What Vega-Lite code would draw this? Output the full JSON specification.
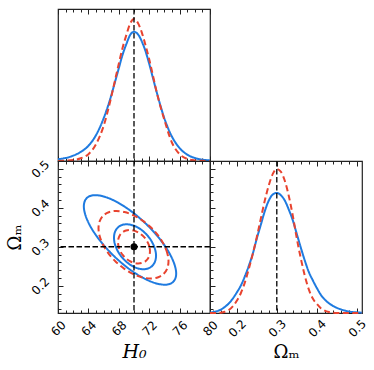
{
  "$schema": "https://vega.github.io/schema/vega-lite/v6.json",
  "padding": {"left": 5, "top": 7, "right": 5, "bottom": 5},
  "config": {
    "view": {"stroke": "#222222", "strokeWidth": 1.2},
    "axis": {"grid": false, "domain": false, "labelFont": "DejaVu Sans", "labelFontSize": 12, "labelColor": "black", "tickColor": "#222222", "tickWidth": 1, "titleFont": "DejaVu Serif", "titleFontSize": 18, "titleFontWeight": "normal", "titleColor": "black", "labelOverlap": false, "labelFlush": false, "labelBound": false}
  },
  "datasets": {
    "h0curves": [
      {"model": "A", "H0": 60, "p": 0.012}, {"model": "A", "H0": 61, "p": 0.02}, {"model": "A", "H0": 62, "p": 0.035}, {"model": "A", "H0": 63, "p": 0.06}, {"model": "A", "H0": 64, "p": 0.1}, {"model": "A", "H0": 65, "p": 0.17}, {"model": "A", "H0": 66, "p": 0.28}, {"model": "A", "H0": 67, "p": 0.43}, {"model": "A", "H0": 67.5, "p": 0.52}, {"model": "A", "H0": 68, "p": 0.61}, {"model": "A", "H0": 68.5, "p": 0.70}, {"model": "A", "H0": 69, "p": 0.77}, {"model": "A", "H0": 69.5, "p": 0.83}, {"model": "A", "H0": 70, "p": 0.85}, {"model": "A", "H0": 70.5, "p": 0.835}, {"model": "A", "H0": 71, "p": 0.79}, {"model": "A", "H0": 71.5, "p": 0.725}, {"model": "A", "H0": 72, "p": 0.64}, {"model": "A", "H0": 72.5, "p": 0.545}, {"model": "A", "H0": 73, "p": 0.45}, {"model": "A", "H0": 74, "p": 0.28}, {"model": "A", "H0": 75, "p": 0.16}, {"model": "A", "H0": 76, "p": 0.085}, {"model": "A", "H0": 77, "p": 0.042}, {"model": "A", "H0": 78, "p": 0.02}, {"model": "A", "H0": 79, "p": 0.009}, {"model": "A", "H0": 80, "p": 0.004},
      {"model": "B", "H0": 60, "p": 0}, {"model": "B", "H0": 61, "p": 0.002}, {"model": "B", "H0": 62, "p": 0.006}, {"model": "B", "H0": 63, "p": 0.018}, {"model": "B", "H0": 64, "p": 0.045}, {"model": "B", "H0": 65, "p": 0.11}, {"model": "B", "H0": 66, "p": 0.23}, {"model": "B", "H0": 67, "p": 0.42}, {"model": "B", "H0": 67.5, "p": 0.53}, {"model": "B", "H0": 68, "p": 0.64}, {"model": "B", "H0": 68.5, "p": 0.745}, {"model": "B", "H0": 69, "p": 0.83}, {"model": "B", "H0": 69.5, "p": 0.905}, {"model": "B", "H0": 70, "p": 0.935}, {"model": "B", "H0": 70.5, "p": 0.91}, {"model": "B", "H0": 71, "p": 0.85}, {"model": "B", "H0": 71.5, "p": 0.765}, {"model": "B", "H0": 72, "p": 0.67}, {"model": "B", "H0": 72.5, "p": 0.56}, {"model": "B", "H0": 73, "p": 0.45}, {"model": "B", "H0": 74, "p": 0.27}, {"model": "B", "H0": 75, "p": 0.12}, {"model": "B", "H0": 76, "p": 0.045}, {"model": "B", "H0": 77, "p": 0.014}, {"model": "B", "H0": 78, "p": 0.004}, {"model": "B", "H0": 79, "p": 0.001}, {"model": "B", "H0": 80, "p": 0}
    ],
    "omcurves": [
      {"model": "A", "Om": 0.133, "p": 0.003}, {"model": "A", "Om": 0.15, "p": 0.012}, {"model": "A", "Om": 0.16, "p": 0.022}, {"model": "A", "Om": 0.17, "p": 0.04}, {"model": "A", "Om": 0.18, "p": 0.063}, {"model": "A", "Om": 0.19, "p": 0.095}, {"model": "A", "Om": 0.2, "p": 0.135}, {"model": "A", "Om": 0.21, "p": 0.18}, {"model": "A", "Om": 0.22, "p": 0.24}, {"model": "A", "Om": 0.23, "p": 0.31}, {"model": "A", "Om": 0.24, "p": 0.39}, {"model": "A", "Om": 0.25, "p": 0.49}, {"model": "A", "Om": 0.26, "p": 0.58}, {"model": "A", "Om": 0.27, "p": 0.67}, {"model": "A", "Om": 0.28, "p": 0.74}, {"model": "A", "Om": 0.29, "p": 0.78}, {"model": "A", "Om": 0.3, "p": 0.79}, {"model": "A", "Om": 0.31, "p": 0.775}, {"model": "A", "Om": 0.32, "p": 0.74}, {"model": "A", "Om": 0.33, "p": 0.68}, {"model": "A", "Om": 0.34, "p": 0.61}, {"model": "A", "Om": 0.35, "p": 0.52}, {"model": "A", "Om": 0.36, "p": 0.43}, {"model": "A", "Om": 0.37, "p": 0.345}, {"model": "A", "Om": 0.38, "p": 0.27}, {"model": "A", "Om": 0.39, "p": 0.215}, {"model": "A", "Om": 0.4, "p": 0.165}, {"model": "A", "Om": 0.41, "p": 0.12}, {"model": "A", "Om": 0.42, "p": 0.088}, {"model": "A", "Om": 0.43, "p": 0.065}, {"model": "A", "Om": 0.44, "p": 0.047}, {"model": "A", "Om": 0.45, "p": 0.034}, {"model": "A", "Om": 0.46, "p": 0.024}, {"model": "A", "Om": 0.47, "p": 0.016}, {"model": "A", "Om": 0.48, "p": 0.01}, {"model": "A", "Om": 0.49, "p": 0.006}, {"model": "A", "Om": 0.5, "p": 0.004}, {"model": "A", "Om": 0.513, "p": 0.002},
      {"model": "B", "Om": 0.133, "p": 0}, {"model": "B", "Om": 0.15, "p": 0}, {"model": "B", "Om": 0.16, "p": 0.002}, {"model": "B", "Om": 0.17, "p": 0.008}, {"model": "B", "Om": 0.18, "p": 0.02}, {"model": "B", "Om": 0.19, "p": 0.044}, {"model": "B", "Om": 0.2, "p": 0.08}, {"model": "B", "Om": 0.21, "p": 0.13}, {"model": "B", "Om": 0.22, "p": 0.2}, {"model": "B", "Om": 0.23, "p": 0.29}, {"model": "B", "Om": 0.24, "p": 0.39}, {"model": "B", "Om": 0.25, "p": 0.5}, {"model": "B", "Om": 0.26, "p": 0.62}, {"model": "B", "Om": 0.27, "p": 0.74}, {"model": "B", "Om": 0.28, "p": 0.84}, {"model": "B", "Om": 0.29, "p": 0.915}, {"model": "B", "Om": 0.3, "p": 0.947}, {"model": "B", "Om": 0.31, "p": 0.93}, {"model": "B", "Om": 0.32, "p": 0.87}, {"model": "B", "Om": 0.33, "p": 0.77}, {"model": "B", "Om": 0.34, "p": 0.64}, {"model": "B", "Om": 0.35, "p": 0.49}, {"model": "B", "Om": 0.36, "p": 0.36}, {"model": "B", "Om": 0.37, "p": 0.245}, {"model": "B", "Om": 0.38, "p": 0.155}, {"model": "B", "Om": 0.39, "p": 0.095}, {"model": "B", "Om": 0.4, "p": 0.06}, {"model": "B", "Om": 0.41, "p": 0.032}, {"model": "B", "Om": 0.42, "p": 0.015}, {"model": "B", "Om": 0.43, "p": 0.006}, {"model": "B", "Om": 0.44, "p": 0.002}, {"model": "B", "Om": 0.45, "p": 0}, {"model": "B", "Om": 0.513, "p": 0}
    ],
    "contours": [
      {"curve": "A2", "model": "A", "i": 0, "H0": 75.55, "Om": 0.2312}, {"curve": "A2", "model": "A", "i": 1, "H0": 75.34, "Om": 0.2538}, {"curve": "A2", "model": "A", "i": 2, "H0": 74.73, "Om": 0.2808}, {"curve": "A2", "model": "A", "i": 3, "H0": 73.77, "Om": 0.3102}, {"curve": "A2", "model": "A", "i": 4, "H0": 72.51, "Om": 0.3401}, {"curve": "A2", "model": "A", "i": 5, "H0": 71.04, "Om": 0.3685}, {"curve": "A2", "model": "A", "i": 6, "H0": 69.47, "Om": 0.3934}, {"curve": "A2", "model": "A", "i": 7, "H0": 67.9, "Om": 0.4131}, {"curve": "A2", "model": "A", "i": 8, "H0": 66.44, "Om": 0.4263}, {"curve": "A2", "model": "A", "i": 9, "H0": 65.18, "Om": 0.4321}, {"curve": "A2", "model": "A", "i": 10, "H0": 64.21, "Om": 0.4301}, {"curve": "A2", "model": "A", "i": 11, "H0": 63.61, "Om": 0.4204}, {"curve": "A2", "model": "A", "i": 12, "H0": 63.4, "Om": 0.4037}, {"curve": "A2", "model": "A", "i": 13, "H0": 63.61, "Om": 0.3811}, {"curve": "A2", "model": "A", "i": 14, "H0": 64.21, "Om": 0.3541}, {"curve": "A2", "model": "A", "i": 15, "H0": 65.18, "Om": 0.3247}, {"curve": "A2", "model": "A", "i": 16, "H0": 66.44, "Om": 0.2948}, {"curve": "A2", "model": "A", "i": 17, "H0": 67.9, "Om": 0.2664}, {"curve": "A2", "model": "A", "i": 18, "H0": 69.47, "Om": 0.2415}, {"curve": "A2", "model": "A", "i": 19, "H0": 71.04, "Om": 0.2218}, {"curve": "A2", "model": "A", "i": 20, "H0": 72.51, "Om": 0.2086}, {"curve": "A2", "model": "A", "i": 21, "H0": 73.77, "Om": 0.2028}, {"curve": "A2", "model": "A", "i": 22, "H0": 74.73, "Om": 0.2048}, {"curve": "A2", "model": "A", "i": 23, "H0": 75.34, "Om": 0.2145},
      {"curve": "A1", "model": "A", "i": 0, "H0": 72.9, "Om": 0.2769}, {"curve": "A1", "model": "A", "i": 1, "H0": 72.8, "Om": 0.2914}, {"curve": "A1", "model": "A", "i": 2, "H0": 72.52, "Om": 0.3064}, {"curve": "A1", "model": "A", "i": 3, "H0": 72.09, "Om": 0.3211}, {"curve": "A1", "model": "A", "i": 4, "H0": 71.51, "Om": 0.3342}, {"curve": "A1", "model": "A", "i": 5, "H0": 70.85, "Om": 0.3451}, {"curve": "A1", "model": "A", "i": 6, "H0": 70.13, "Om": 0.3529}, {"curve": "A1", "model": "A", "i": 7, "H0": 69.42, "Om": 0.357}, {"curve": "A1", "model": "A", "i": 8, "H0": 68.75, "Om": 0.3573}, {"curve": "A1", "model": "A", "i": 9, "H0": 68.18, "Om": 0.3537}, {"curve": "A1", "model": "A", "i": 10, "H0": 67.74, "Om": 0.3464}, {"curve": "A1", "model": "A", "i": 11, "H0": 67.46, "Om": 0.336}, {"curve": "A1", "model": "A", "i": 12, "H0": 67.37, "Om": 0.3231}, {"curve": "A1", "model": "A", "i": 13, "H0": 67.46, "Om": 0.3086}, {"curve": "A1", "model": "A", "i": 14, "H0": 67.74, "Om": 0.2936}, {"curve": "A1", "model": "A", "i": 15, "H0": 68.18, "Om": 0.2789}, {"curve": "A1", "model": "A", "i": 16, "H0": 68.75, "Om": 0.2658}, {"curve": "A1", "model": "A", "i": 17, "H0": 69.42, "Om": 0.2549}, {"curve": "A1", "model": "A", "i": 18, "H0": 70.13, "Om": 0.2471}, {"curve": "A1", "model": "A", "i": 19, "H0": 70.85, "Om": 0.243}, {"curve": "A1", "model": "A", "i": 20, "H0": 71.51, "Om": 0.2427}, {"curve": "A1", "model": "A", "i": 21, "H0": 72.09, "Om": 0.2463}, {"curve": "A1", "model": "A", "i": 22, "H0": 72.52, "Om": 0.2536}, {"curve": "A1", "model": "A", "i": 23, "H0": 72.8, "Om": 0.264},
      {"curve": "B2", "model": "B", "i": 0, "H0": 74.54, "Om": 0.2625}, {"curve": "B2", "model": "B", "i": 1, "H0": 74.38, "Om": 0.2835}, {"curve": "B2", "model": "B", "i": 2, "H0": 73.92, "Om": 0.306}, {"curve": "B2", "model": "B", "i": 3, "H0": 73.19, "Om": 0.3284}, {"curve": "B2", "model": "B", "i": 4, "H0": 72.24, "Om": 0.3492}, {"curve": "B2", "model": "B", "i": 5, "H0": 71.13, "Om": 0.367}, {"curve": "B2", "model": "B", "i": 6, "H0": 69.93, "Om": 0.3806}, {"curve": "B2", "model": "B", "i": 7, "H0": 68.74, "Om": 0.389}, {"curve": "B2", "model": "B", "i": 8, "H0": 67.63, "Om": 0.3918}, {"curve": "B2", "model": "B", "i": 9, "H0": 66.68, "Om": 0.3886}, {"curve": "B2", "model": "B", "i": 10, "H0": 65.95, "Om": 0.3798}, {"curve": "B2", "model": "B", "i": 11, "H0": 65.49, "Om": 0.3658}, {"curve": "B2", "model": "B", "i": 12, "H0": 65.33, "Om": 0.3477}, {"curve": "B2", "model": "B", "i": 13, "H0": 65.49, "Om": 0.3267}, {"curve": "B2", "model": "B", "i": 14, "H0": 65.95, "Om": 0.3043}, {"curve": "B2", "model": "B", "i": 15, "H0": 66.68, "Om": 0.2819}, {"curve": "B2", "model": "B", "i": 16, "H0": 67.63, "Om": 0.2611}, {"curve": "B2", "model": "B", "i": 17, "H0": 68.74, "Om": 0.2433}, {"curve": "B2", "model": "B", "i": 18, "H0": 69.93, "Om": 0.2297}, {"curve": "B2", "model": "B", "i": 19, "H0": 71.13, "Om": 0.2212}, {"curve": "B2", "model": "B", "i": 20, "H0": 72.24, "Om": 0.2185}, {"curve": "B2", "model": "B", "i": 21, "H0": 73.19, "Om": 0.2217}, {"curve": "B2", "model": "B", "i": 22, "H0": 73.92, "Om": 0.2305}, {"curve": "B2", "model": "B", "i": 23, "H0": 74.38, "Om": 0.2445},
      {"curve": "B1", "model": "B", "i": 0, "H0": 72.1, "Om": 0.2885}, {"curve": "B1", "model": "B", "i": 1, "H0": 72.03, "Om": 0.2995}, {"curve": "B1", "model": "B", "i": 2, "H0": 71.82, "Om": 0.3106}, {"curve": "B1", "model": "B", "i": 3, "H0": 71.49, "Om": 0.321}, {"curve": "B1", "model": "B", "i": 4, "H0": 71.05, "Om": 0.33}, {"curve": "B1", "model": "B", "i": 5, "H0": 70.54, "Om": 0.3369}, {"curve": "B1", "model": "B", "i": 6, "H0": 70.0, "Om": 0.3413}, {"curve": "B1", "model": "B", "i": 7, "H0": 69.46, "Om": 0.3429}, {"curve": "B1", "model": "B", "i": 8, "H0": 68.95, "Om": 0.3415}, {"curve": "B1", "model": "B", "i": 9, "H0": 68.51, "Om": 0.3374}, {"curve": "B1", "model": "B", "i": 10, "H0": 68.18, "Om": 0.3307}, {"curve": "B1", "model": "B", "i": 11, "H0": 67.97, "Om": 0.3219}, {"curve": "B1", "model": "B", "i": 12, "H0": 67.9, "Om": 0.3115}, {"curve": "B1", "model": "B", "i": 13, "H0": 67.97, "Om": 0.3005}, {"curve": "B1", "model": "B", "i": 14, "H0": 68.18, "Om": 0.2894}, {"curve": "B1", "model": "B", "i": 15, "H0": 68.51, "Om": 0.279}, {"curve": "B1", "model": "B", "i": 16, "H0": 68.95, "Om": 0.27}, {"curve": "B1", "model": "B", "i": 17, "H0": 69.46, "Om": 0.2631}, {"curve": "B1", "model": "B", "i": 18, "H0": 70.0, "Om": 0.2587}, {"curve": "B1", "model": "B", "i": 19, "H0": 70.54, "Om": 0.2571}, {"curve": "B1", "model": "B", "i": 20, "H0": 71.05, "Om": 0.2585}, {"curve": "B1", "model": "B", "i": 21, "H0": 71.49, "Om": 0.2626}, {"curve": "B1", "model": "B", "i": 22, "H0": 71.82, "Om": 0.2693}, {"curve": "B1", "model": "B", "i": 23, "H0": 72.03, "Om": 0.2781}
    ],
    "truth": [{"H0": 70, "Om": 0.3}]
  },
  "columns": 2,
  "spacing": 0,
  "bounds": "flush",
  "align": "all",
  "concat": [
    {
      "width": 152, "height": 152,
      "resolve": {"scale": {"x": "independent"}},
      "layer": [
        {
          "data": {"name": "h0curves"},
          "mark": {"type": "line", "strokeWidth": 2, "interpolate": "monotone"},
          "encoding": {
            "x": {"field": "H0", "type": "quantitative", "scale": {"domain": [60, 80], "nice": false, "zero": false},
              "axis": {"orient": "bottom", "values": [60,61,62,63,64,65,66,67,68,69,70,71,72,73,74,75,76,77,78,79,80], "labels": false, "title": null, "tickSize": {"condition": {"test": "datum.value % 4 === 0", "value": -5}, "value": -3}}},
            "y": {"field": "p", "type": "quantitative", "scale": {"domain": [0, 1], "nice": false}, "axis": null},
            "color": {"field": "model", "type": "nominal", "scale": {"domain": ["A", "B"], "range": ["#1f7be0", "#e8432f"]}, "legend": null},
            "strokeDash": {"field": "model", "type": "nominal", "scale": {"domain": ["A", "B"], "range": [[1, 0], [6, 3.5]]}, "legend": null}
          }
        },
        {
          "data": {"name": "truth"},
          "mark": {"type": "rule", "color": "black", "strokeWidth": 1.3, "strokeDash": [5.5, 2.5]},
          "encoding": {
            "x": {"field": "H0", "type": "quantitative", "scale": {"domain": [60, 80], "nice": false, "zero": false},
              "axis": {"orient": "top", "values": [60,61,62,63,64,65,66,67,68,69,70,71,72,73,74,75,76,77,78,79,80], "labels": false, "title": null, "tickSize": {"condition": {"test": "datum.value % 4 === 0", "value": -5}, "value": -3}}}
          }
        }
      ]
    },
    {
      "width": 152, "height": 152,
      "view": {"stroke": null},
      "data": {"values": [{}]},
      "mark": {"type": "point", "opacity": 0}
    },
    {
      "width": 152, "height": 152,
      "resolve": {"scale": {"x": "independent", "y": "independent"}},
      "layer": [
        {
          "data": {"name": "contours"},
          "mark": {"type": "line", "strokeWidth": 2, "interpolate": "cardinal-closed"},
          "encoding": {
            "x": {"field": "H0", "type": "quantitative", "scale": {"domain": [60, 80], "nice": false, "zero": false},
              "axis": {"orient": "bottom", "values": [60,61,62,63,64,65,66,67,68,69,70,71,72,73,74,75,76,77,78,79,80], "labelExpr": "datum.value % 4 === 0 ? datum.label : ''", "labelAngle": -45, "labelAlign": "center", "labelBaseline": "middle", "labelPadding": 20, "tickSize": {"condition": {"test": "datum.value % 4 === 0", "value": -5}, "value": -3}, "title": "H₀", "titleFontStyle": "italic", "titleFontSize": 19, "titlePadding": 5}},
            "y": {"field": "Om", "type": "quantitative", "scale": {"domain": [0.13, 0.52], "nice": false, "zero": false},
              "axis": {"orient": "left", "values": [0.14,0.16,0.18,0.2,0.22,0.24,0.26,0.28,0.3,0.32,0.34,0.36,0.38,0.4,0.42,0.44,0.46,0.48,0.5,0.52], "labelExpr": "abs(datum.value*10 - round(datum.value*10)) < 0.001 ? format(datum.value, '.1f') : ''", "labelAngle": -45, "labelAlign": "center", "labelBaseline": "middle", "labelPadding": 23, "tickSize": {"condition": {"test": "abs(datum.value*10 - round(datum.value*10)) < 0.001", "value": -5}, "value": -3}, "title": "Ωₘ", "titlePadding": 5}},
            "detail": {"field": "curve"},
            "order": {"field": "i", "type": "quantitative"},
            "color": {"field": "model", "type": "nominal", "scale": {"domain": ["A", "B"], "range": ["#1f7be0", "#e8432f"]}, "legend": null},
            "strokeDash": {"field": "model", "type": "nominal", "scale": {"domain": ["A", "B"], "range": [[1, 0], [6, 3.5]]}, "legend": null}
          }
        },
        {
          "data": {"name": "truth"},
          "mark": {"type": "rule", "color": "black", "strokeWidth": 1.3, "strokeDash": [5.5, 2.5]},
          "encoding": {
            "x": {"field": "H0", "type": "quantitative", "scale": {"domain": [60, 80], "nice": false, "zero": false},
              "axis": {"orient": "top", "values": [60,61,62,63,64,65,66,67,68,69,70,71,72,73,74,75,76,77,78,79,80], "labels": false, "title": null, "tickSize": {"condition": {"test": "datum.value % 4 === 0", "value": -5}, "value": -3}}}
          }
        },
        {
          "data": {"name": "truth"},
          "mark": {"type": "rule", "color": "black", "strokeWidth": 1.3, "strokeDash": [5.5, 2.5]},
          "encoding": {
            "y": {"field": "Om", "type": "quantitative", "scale": {"domain": [0.13, 0.52], "nice": false, "zero": false},
              "axis": {"orient": "right", "values": [0.14,0.16,0.18,0.2,0.22,0.24,0.26,0.28,0.3,0.32,0.34,0.36,0.38,0.4,0.42,0.44,0.46,0.48,0.5,0.52], "labels": false, "title": null, "tickSize": {"condition": {"test": "abs(datum.value*10 - round(datum.value*10)) < 0.001", "value": 5}, "value": 3}}}
          }
        },
        {
          "data": {"name": "truth"},
          "mark": {"type": "point", "filled": true, "color": "black", "size": 50, "opacity": 1},
          "encoding": {
            "x": {"field": "H0", "type": "quantitative", "scale": {"domain": [60, 80], "nice": false, "zero": false}, "axis": null},
            "y": {"field": "Om", "type": "quantitative", "scale": {"domain": [0.13, 0.52], "nice": false, "zero": false}, "axis": null}
          }
        }
      ]
    },
    {
      "width": 152, "height": 152,
      "resolve": {"scale": {"x": "independent"}},
      "layer": [
        {
          "data": {"name": "omcurves"},
          "mark": {"type": "line", "strokeWidth": 2, "interpolate": "monotone"},
          "encoding": {
            "x": {"field": "Om", "type": "quantitative", "scale": {"domain": [0.133, 0.513], "nice": false, "zero": false},
              "axis": {"orient": "bottom", "values": [0.14,0.16,0.18,0.2,0.22,0.24,0.26,0.28,0.3,0.32,0.34,0.36,0.38,0.4,0.42,0.44,0.46,0.48,0.5], "labelExpr": "abs(datum.value*10 - round(datum.value*10)) < 0.001 ? format(datum.value, '.1f') : ''", "labelAngle": -45, "labelAlign": "center", "labelBaseline": "middle", "labelPadding": 20, "tickSize": {"condition": {"test": "abs(datum.value*10 - round(datum.value*10)) < 0.001", "value": -5}, "value": -3}, "title": "Ωₘ", "titlePadding": 5}},
            "y": {"field": "p", "type": "quantitative", "scale": {"domain": [0, 1], "nice": false}, "axis": null},
            "color": {"field": "model", "type": "nominal", "scale": {"domain": ["A", "B"], "range": ["#1f7be0", "#e8432f"]}, "legend": null},
            "strokeDash": {"field": "model", "type": "nominal", "scale": {"domain": ["A", "B"], "range": [[1, 0], [6, 3.5]]}, "legend": null}
          }
        },
        {
          "data": {"name": "truth"},
          "mark": {"type": "rule", "color": "black", "strokeWidth": 1.3, "strokeDash": [5.5, 2.5]},
          "encoding": {
            "x": {"field": "Om", "type": "quantitative", "scale": {"domain": [0.133, 0.513], "nice": false, "zero": false},
              "axis": {"orient": "top", "values": [0.14,0.16,0.18,0.2,0.22,0.24,0.26,0.28,0.3,0.32,0.34,0.36,0.38,0.4,0.42,0.44,0.46,0.48,0.5], "labels": false, "title": null, "tickSize": {"condition": {"test": "abs(datum.value*10 - round(datum.value*10)) < 0.001", "value": -5}, "value": -3}}}
          }
        }
      ]
    }
  ]
}
